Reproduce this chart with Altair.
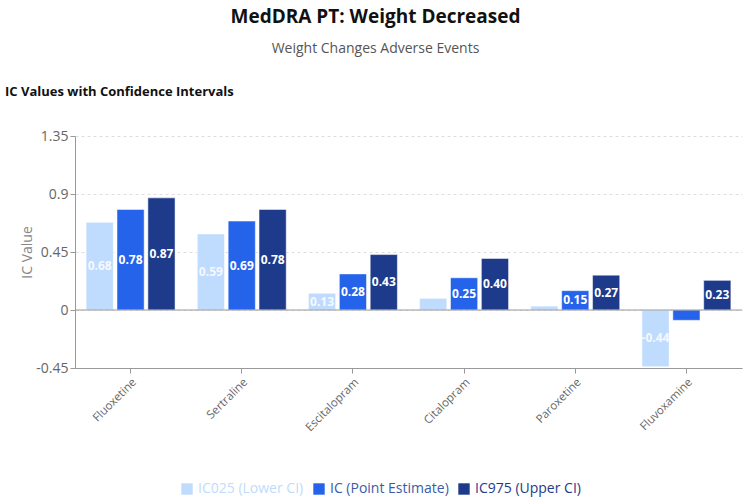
import altair as alt
import pandas as pd

drugs = ["Fluoxetine", "Sertraline", "Escitalopram", "Citalopram", "Paroxetine", "Fluvoxamine"]
ic025 = [0.68, 0.59, 0.13, 0.09, 0.03, -0.44]
ic = [0.78, 0.69, 0.28, 0.25, 0.15, -0.08]
ic975 = [0.87, 0.78, 0.43, 0.40, 0.27, 0.23]
series = ["IC025 (Lower CI)", "IC (Point Estimate)", "IC975 (Upper CI)"]
colors = ["#BFDBFE", "#2563EB", "#1E3A8A"]
y_ticks = [-0.45, 0, 0.45, 0.9, 1.35]

rows = []
for i, d in enumerate(drugs):
    for s, vals in zip(series, [ic025, ic, ic975]):
        rows.append({"drug": d, "series": s, "value": vals[i], "order": series.index(s)})
df = pd.DataFrame(rows)
df["label"] = df["value"].map(lambda v: f"{v:.2f}")

FONT = "Open Sans"

x = alt.X("drug:N", sort=drugs, title=None,
          scale=alt.Scale(paddingInner=0.2, paddingOuter=0.1),
          axis=alt.Axis(labelAngle=-45, labelAlign="right", labelBaseline="top",
                        labelColor="#666666", labelFontSize=11.5, labelFont=FONT,
                        domainColor="#999999", tickColor="#999999", labelPadding=3,
                        tickSize=5))
y = alt.Y("value:Q", title="IC Value",
          scale=alt.Scale(domain=[-0.45, 1.35], nice=False, zero=False),
          axis=alt.Axis(values=y_ticks, labelColor="#666666", labelFontSize=14,
                        labelFont=FONT, titleColor="#888888", titleFontSize=14,
                        titleFont=FONT, titleFontWeight="normal", domainColor="#999999",
                        tickColor="#999999", gridColor="#dddddd", gridDash=[3, 3],
                        titlePadding=1, labelExpr="datum.value == 0 ? '0' : '' + datum.value"))
xo = alt.XOffset("series:N", sort=series, scale=alt.Scale(paddingInner=0.12))
color = alt.Color("series:N", sort=series,
                  scale=alt.Scale(domain=series, range=colors),
                  legend=alt.Legend(title=None, orient="none", direction="horizontal",
                                    legendX=105, legendY=346,
                                    symbolType="square", symbolSize=130, labelFontSize=14,
                                    labelFont=FONT, symbolStrokeWidth=0,
                                    columnPadding=8,
                                    labelColor=alt.ExprRef("datum.label == 'IC025 (Lower CI)' ? '#BFDBFE' : (datum.label == 'IC (Point Estimate)' ? '#3B5BA8' : '#1E3A8A')")))

base = alt.Chart(df)
bars = base.mark_bar(stroke="white", strokeWidth=0.5).encode(x=x, y=y, xOffset=xo, color=color)

labels = base.transform_filter("abs(datum.value) >= 0.1").transform_calculate(
    mid="datum.value / 2"
).mark_text(color="white", fontSize=12, fontWeight="bold", font=FONT).encode(
    x=alt.X("drug:N", sort=drugs), xOffset=xo, y=alt.Y("mid:Q"), text="label:N",
    opacity=alt.condition("datum.order == 0", alt.value(0.85), alt.value(1.0)))

zero = alt.Chart(pd.DataFrame({"z": [0]})).mark_rule(color="#999999", strokeWidth=1.2).encode(y="z:Q")

heading = alt.Chart(pd.DataFrame({"t": ["IC Values with Confidence Intervals"]})).mark_text(
    align="left", baseline="middle", fontSize=13, fontWeight="bold", font=FONT, color="#111111"
).encode(text="t:N", x=alt.value(-70), y=alt.value(-44))

chart = alt.layer(bars, zero, labels, heading).properties(
    width=667, height=232,
    title=alt.TitleParams(text="MedDRA PT: Weight Decreased", subtitle="Weight Changes Adverse Events",
                          anchor="middle", frame="group", fontSize=19, fontWeight="bold",
                          font=FONT, color="#111111", subtitleFont=FONT, subtitleFontSize=14,
                          subtitleColor="#555555", subtitlePadding=15, offset=30, dx=-33),
    padding={"left": 75, "top": 136, "right": 8, "bottom": 130},
    autosize=alt.AutoSizeParams(type="none"),
).configure_view(stroke=None)

chart.save("out.html", embed_options={"renderer": "svg", "actions": False})
